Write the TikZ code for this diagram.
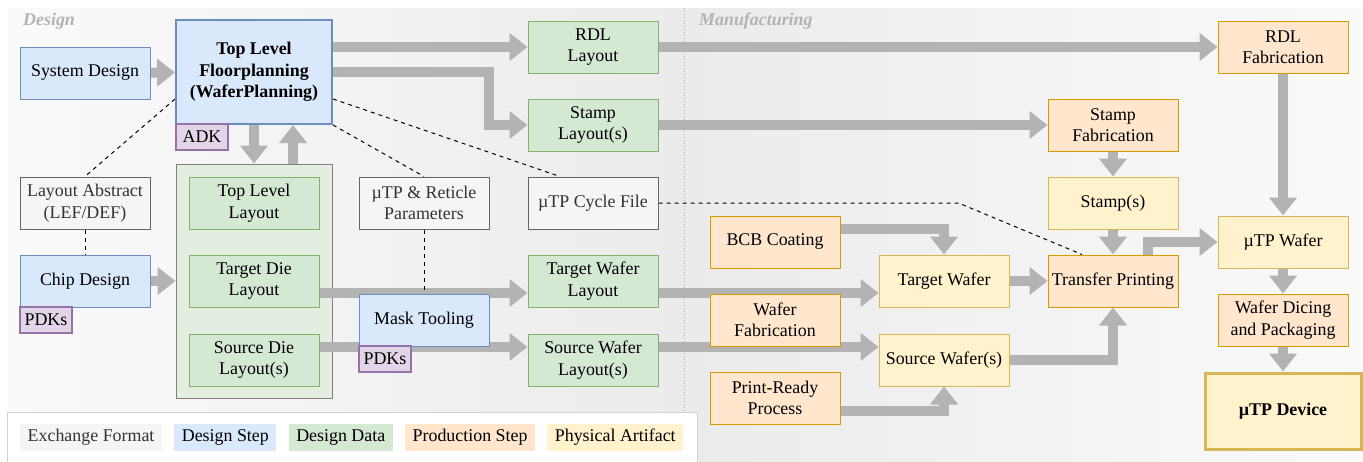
\documentclass[tikz,border=0pt]{standalone}
\usepackage{fontspec}
\setmainfont{Liberation Serif}
\usetikzlibrary{arrows.meta,positioning}

\definecolor{exfill}{HTML}{F5F5F5}\definecolor{exline}{HTML}{666666}\definecolor{extext}{HTML}{333333}
\definecolor{bluefill}{HTML}{DAE8FC}\definecolor{blueline}{HTML}{6C8EBF}
\definecolor{greenfill}{HTML}{D5E8D4}\definecolor{greenline}{HTML}{82B366}
\definecolor{orangefill}{HTML}{FFE6CC}\definecolor{orangeline}{HTML}{D79B00}
\definecolor{yellowfill}{HTML}{FFF2CC}\definecolor{yellowline}{HTML}{D6B656}
\definecolor{purplefill}{HTML}{E1D5E7}\definecolor{purpleline}{HTML}{9673A6}
\definecolor{contfill}{HTML}{E3EDE0}\definecolor{contline}{HTML}{808080}
\definecolor{flowgray}{HTML}{B3B3B3}
\definecolor{bgpale}{HTML}{FAFAFA}\definecolor{bgdark}{HTML}{EBEBEB}

\pgfdeclarelayer{panel}
\pgfdeclarelayer{flows}
\pgfsetlayers{panel,flows,main}

\begin{document}
\begin{tikzpicture}[x=1pt,y=-1pt,line join=miter,
	font=\fontsize{17.9}{21.5}\selectfont,
	box/.style={draw,line width=1pt,minimum width=130pt,minimum height=52pt,align=center,inner sep=1pt},
	exch/.style={box,fill=exfill,draw=exline,text=extext},
	dstep/.style={box,fill=bluefill,draw=blueline},
	ddata/.style={box,fill=greenfill,draw=greenline},
	pstep/.style={box,fill=orangefill,draw=orangeline},
	phys/.style={box,fill=yellowfill,draw=yellowline},
	kit/.style={draw=purpleline,fill=purplefill,line width=1.5pt,minimum width=52pt,minimum height=26pt,inner sep=0pt},
	zone/.style={anchor=base west,inner sep=3pt,text=flowgray,font=\fontsize{17.9}{21.5}\selectfont\bfseries\itshape},
	key/.style={minimum height=27pt,inner xsep=7.5pt,inner ysep=0pt},
	flow/.style={draw=flowgray,line width=10pt,-{Triangle[length=18pt,width=27pt]}},
	link/.style={line width=1pt,dash pattern=on 4pt off 4pt}]
	\useasboundingbox (0,0) rectangle (1363,461);

	% panels
	\begin{pgfonlayer}{panel}
		\shade[left color=bgpale,right color=bgdark] (8,8) rectangle (684,461);
		\shade[left color=bgdark,right color=bgpale] (684,8) rectangle (1363,461);
		\draw[flowgray,line width=1pt,dash pattern=on 1pt off 2pt] (684,8) -- (684,461);
		\node[zone] (design) at (20,25) {Design};
		\node[zone] (manuf) at (696,25) {Manufacturing};
		\node[draw=contline,fill=contfill,line width=1pt,minimum width=156pt,minimum height=234pt] (cont) at (254,281) {};
	\end{pgfonlayer}

	% design side
	\node[dstep] (sys) at (85,73) {System Design};
	\node[dstep,line width=2pt,minimum width=156pt,minimum height=104pt,font=\fontsize{17.9}{21.5}\selectfont\bfseries] (tlf) at (254,72) {Top Level\\Floorplanning\\(WaferPlanning)};
	\node[kit] (adk) at (202,137) {ADK};
	\node[exch] (lef) at (85,203) {Layout Abstract\\(LEF/DEF)};
	\node[dstep] (chip) at (85,281) {Chip Design};
	\node[kit] (pdka) at (46,320) {PDKs};
	\node[ddata] (tll) at (254,203) {Top Level\\Layout};
	\node[ddata] (tdl) at (254,281) {Target Die\\Layout};
	\node[ddata] (sdl) at (254,360) {Source Die\\Layout(s)};
	\node[exch] (reticle) at (424,203) {µTP \& Reticle\\Parameters};
	\node[dstep] (mask) at (424,320) {Mask Tooling};
	\node[kit] (pdkb) at (385,359) {PDKs};
	\node[exch] (cycle) at (593,203) {µTP Cycle File};
	\node[ddata] (rdll) at (593,47) {RDL\\Layout};
	\node[ddata] (stampl) at (593,125) {Stamp\\Layout(s)};
	\node[ddata] (twl) at (593,281) {Target Wafer\\Layout};
	\node[ddata] (swl) at (593,360) {Source Wafer\\Layout(s)};

	% manufacturing side
	\node[pstep] (bcb) at (775,242) {BCB Coating};
	\node[pstep] (wfab) at (775,320) {Wafer\\Fabrication};
	\node[pstep] (prp) at (775,398) {Print-Ready\\Process};
	\node[phys] (tw) at (944,281) {Target Wafer};
	\node[phys] (sw) at (944,360) {Source Wafer(s)};
	\node[pstep] (stfab) at (1113,125) {Stamp\\Fabrication};
	\node[phys] (stamps) at (1113,203) {Stamp(s)};
	\node[pstep] (tp) at (1113,281) {Transfer Printing};
	\node[pstep] (rdlfab) at (1283,47) {RDL\\Fabrication};
	\node[phys] (wafer) at (1283,242) {µTP Wafer};
	\node[pstep] (dicing) at (1283,320) {Wafer Dicing\\and Packaging};
	\node[phys,line width=3pt,minimum width=156pt,minimum height=76pt,font=\fontsize{17.9}{21.5}\selectfont\bfseries] (device) at (1283,411) {µTP Device};

	% flows and links
	\begin{pgfonlayer}{flows}
		\draw[flow] (sys) -- (tlf);
		\draw[flow] (chip) -- (cont);
		\draw[flow] (tlf.south) -- (cont.north);
		\draw[flow] ([xshift=39pt]cont.north) -- ([xshift=39pt]tlf.south);
		\draw[flow] (tlf.east |- rdll) -- (rdll);
		\draw[flow] (tlf.east) -- ++(156,0) |- (stampl);
		\draw[flow] ([yshift=-12pt]tdl.east) -- ([yshift=-12pt]twl.west);
		\draw[flow] ([yshift=13pt]sdl.east) -- ([yshift=13pt]swl.west);
		\draw[flow] (rdll) -- (rdlfab);
		\draw[flow] (stampl) -- (stfab);
		\draw[flow] ([yshift=-12pt]twl.east) -- ([yshift=-12pt]tw.west);
		\draw[flow] ([yshift=13pt]swl.east) -- ([yshift=13pt]sw.west);
		\draw[flow] ([yshift=13pt]bcb.east) -| (tw);
		\draw[flow] ([yshift=-13pt]prp.east) -| (sw);
		\draw[flow] (stfab) -- (stamps);
		\draw[flow] (stamps) -- (tp);
		\draw[flow] (tw) -- (tp);
		\draw[flow] (sw) -| (tp);
		\draw[flow] ([xshift=35pt]tp.north) |- (wafer);
		\draw[flow] (rdlfab) -- (wafer);
		\draw[flow] (wafer) -- (dicing);
		\draw[flow] (dicing) -- (device);
		\draw[link] ([yshift=-27pt]tlf.west) -- (lef.north);
		\draw[link] (lef) -- (chip);
		\draw[link] (tlf.south east) -- (reticle.north);
		\draw[link] (reticle) -- (mask);
		\draw[link] ([yshift=-27pt]tlf.east) -- ([xshift=-33pt]cycle.north);
		\draw[link] (cycle.east) -- ++(300,0) -- ([xshift=-31pt]tp.north);
	\end{pgfonlayer}

	% legend
	\draw[draw=black!18,fill=white,line width=1pt] (7,470) |- (697,412) -- (697,470);
	\node[key,fill=exfill,text=extext,anchor=west] (kexch) at (20,437.5) {Exchange Format};
	\node[key,fill=bluefill,right=12pt of kexch] (kstep) {Design Step};
	\node[key,fill=greenfill,right=12pt of kstep] (kdata) {Design Data};
	\node[key,fill=orangefill,right=12pt of kdata] (kprod) {Production Step};
	\node[key,fill=yellowfill,right=12pt of kprod] (kphys) {Physical Artifact};
\end{tikzpicture}
\end{document}
